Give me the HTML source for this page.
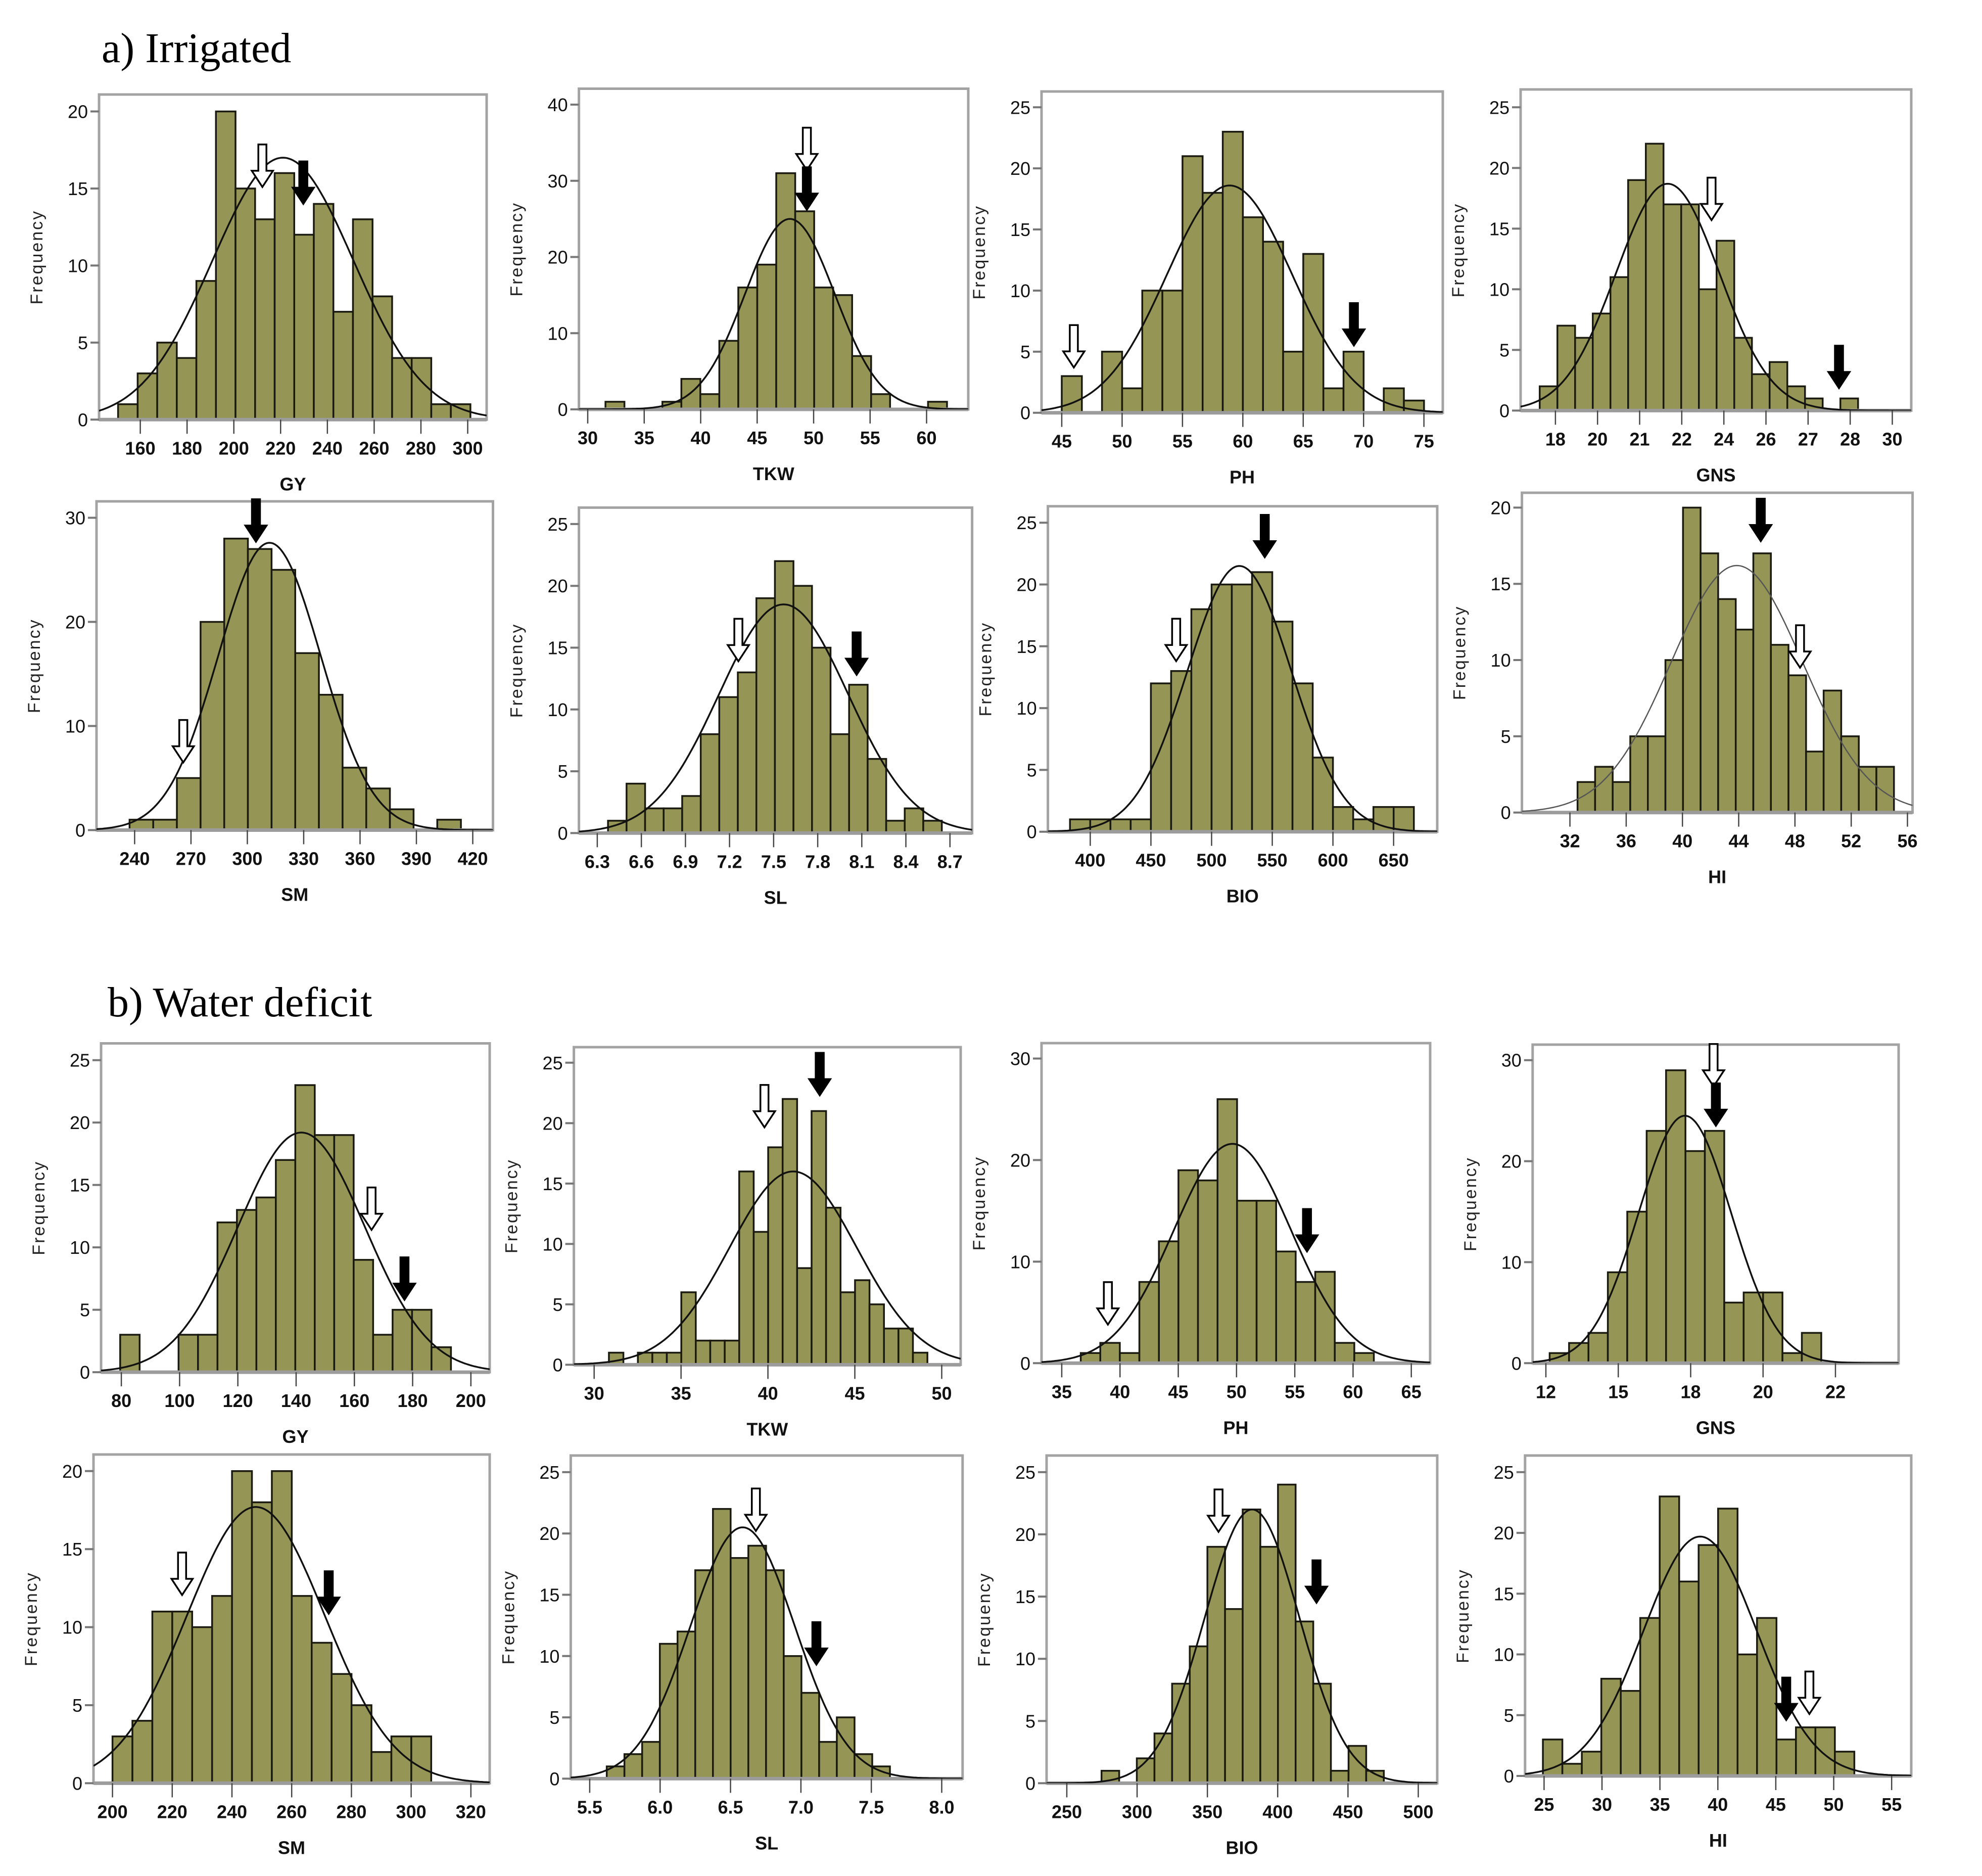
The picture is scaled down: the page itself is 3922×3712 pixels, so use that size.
<!DOCTYPE html>
<html><head><meta charset="utf-8"><style>
html,body{margin:0;padding:0;background:#fff;}
svg{display:block;}
text{font-family:"Liberation Sans",sans-serif;}
</style></head><body>
<svg id="fig" width="3922" height="3712" viewBox="0 0 3922 3712" xmlns="http://www.w3.org/2000/svg">
<rect x="0" y="0" width="3922" height="3712" fill="#fff"/>
<text x="201" y="123" font-size="84" fill="#000" style="font-family:'Liberation Serif',serif">a) Irrigated</text>
<text x="213" y="2011" font-size="84" fill="#000" style="font-family:'Liberation Serif',serif">b) Water deficit</text>
<g id="panels"></g>
</svg>
<script>
// ---------- data (one set of arrays per histogram) ----------
const gyIrrCounts=[1,3,5,4,9,20,15,13,16,12,14,7,13,8,4,4,1,1];
const gyIrrBins=[150.5,8.37];
const gyIrrCurve=[221,30.2,17];
const gyIrrArrows=[[212.2,15.1,0],[229.7,14.0,1]];
const gyIrrXTicks=[160,180,200,220,240,260,280,300];
const gyIrrYTicks=[0,5,10,15,20];

const tkwIrrCounts=[1,0,0,1,4,2,9,16,19,31,26,16,15,7,2,0,0,1];
const tkwIrrBins=[31.57,1.68];
const tkwIrrCurve=[47.9,3.97,25];
const tkwIrrArrows=[[49.4,31.4,0],[49.4,26.2,1]];
const tkwIrrXTicks=[30,35,40,45,50,55,60];
const tkwIrrYTicks=[0,10,20,30,40];

const phIrrCounts=[3,0,5,2,10,10,21,18,23,16,14,5,13,2,5,0,2,1];
const phIrrBins=[45,1.667];
const phIrrCurve=[58.9,5.2,18.6];
const phIrrArrows=[[46,3.7,0],[69.2,5.5,1]];
const phIrrXTicks=[45,50,55,60,65,70,75];
const phIrrYTicks=[0,5,10,15,20,25];

const gnsIrrCounts=[2,7,6,8,11,19,22,17,17,10,14,6,3,4,2,1,0,1];
const gnsIrrBins=[17.44,0.63];
const gnsIrrCurve=[22.0,1.84,18.7];
const gnsIrrArrows=[[23.56,15.7,0],[28.1,1.85,1]];
const gnsIrrXTicks=[18,19.5,21,22.5,24,25.5,27,28.5,30];
const gnsIrrXLabels=["18","20","21","22","24","26","27","28","30"];
const gnsIrrYTicks=[0,5,10,15,20,25];

const smIrrCounts=[1,1,5,20,28,27,25,17,13,6,4,2,0,1];
const smIrrBins=[237.3,12.6];
const smIrrCurve=[311.8,27.3,27.6];
const smIrrArrows=[[265.9,6.5,0],[304.6,27.7,1]];
const smIrrXTicks=[240,270,300,330,360,390,420];
const smIrrYTicks=[0,10,20,30];

const slIrrCounts=[1,4,2,2,3,8,11,13,19,22,20,15,8,12,6,1,2,1];
const slIrrBins=[6.373,0.1262];
const slIrrCurve=[7.568,0.44,18.5];
const slIrrArrows=[[7.26,13.9,0],[8.065,12.8,1]];
const slIrrXTicks=[6.3,6.6,6.9,7.2,7.5,7.8,8.1,8.4,8.7];
const slIrrYTicks=[0,5,10,15,20,25];

const bioIrrCounts=[1,1,1,1,12,13,18,20,20,21,17,12,6,2,1,2,2];
const bioIrrBins=[383.3,16.67];
const bioIrrCurve=[522.9,42.7,21.5];
const bioIrrArrows=[[470.8,13.8,0],[543.8,22.2,1]];
const bioIrrXTicks=[400,450,500,550,600,650];
const bioIrrYTicks=[0,5,10,15,20,25];

const hiIrrCounts=[2,3,2,5,5,10,20,17,14,12,17,11,9,4,8,5,3,3];
const hiIrrBins=[32.54,1.25];
const hiIrrCurve=[43.87,4.69,16.2];
const hiIrrArrows=[[45.57,17.8,1],[48.36,9.5,0]];
const hiIrrXTicks=[32,36,40,44,48,52,56];
const hiIrrYTicks=[0,5,10,15,20];

const gyWdCounts=[3,0,0,3,3,12,13,14,17,23,19,19,9,3,5,5,2];
const gyWdBins=[79.6,6.68];
const gyWdCurve=[141.8,21.8,19.2];
const gyWdArrows=[[165.9,11.4,0],[177.2,5.8,1]];
const gyWdXTicks=[80,100,120,140,160,180,200];
const gyWdYTicks=[0,5,10,15,20,25];

const tkwWdCounts=[1,0,1,1,1,6,2,2,2,16,11,18,22,8,21,13,6,7,5,3,3,1];
const tkwWdBins=[30.85,0.833];
const tkwWdCurve=[41.45,3.66,16];
const tkwWdArrows=[[39.8,19.65,0],[42.98,22.3,1]];
const tkwWdXTicks=[30,35,40,45,50];
const tkwWdYTicks=[0,5,10,15,20,25];

const phWdCounts=[1,2,1,8,12,19,18,26,16,16,11,8,9,2,1];
const phWdBins=[36.63,1.677];
const phWdCurve=[49.65,5.03,21.6];
const phWdArrows=[[38.96,3.8,0],[56.05,11.0,1]];
const phWdXTicks=[35,40,45,50,55,60,65];
const phWdYTicks=[0,10,20,30];

const gnsWdCounts=[1,2,3,9,15,23,29,21,23,6,7,7,1,3];
const gnsWdBins=[12.13,0.67];
const gnsWdCurve=[16.8,1.6,24.5];
const gnsWdArrows=[[17.79,27.4,0],[17.87,23.5,1]];
const gnsWdXTicks=[12,14.5,17,19.5,22];
const gnsWdXLabels=["12","15","18","20","22"];
const gnsWdYTicks=[0,10,20,30];

const smWdCounts=[3,4,11,11,10,12,20,18,20,12,9,7,5,2,3,3];
const smWdBins=[200,6.67];
const smWdCurve=[248,23.1,17.7];
const smWdArrows=[[223.3,12.06,0],[272.4,10.86,1]];
const smWdXTicks=[200,220,240,260,280,300,320];
const smWdYTicks=[0,5,10,15,20];

const slWdCounts=[1,2,3,11,12,17,22,18,19,17,10,7,3,5,2,1];
const slWdBins=[5.621,0.1257];
const slWdCurve=[6.586,0.371,20.5];
const slWdArrows=[[6.68,20.2,0],[7.11,9.3,1]];
const slWdXTicks=[5.5,6.0,6.5,7.0,7.5,8.0];
const slWdYTicks=[0,5,10,15,20,25];

const bioWdCounts=[1,0,2,4,8,11,19,14,22,19,24,13,8,1,3,1];
const bioWdBins=[274.7,12.55];
const bioWdCurve=[381.8,33.6,22];
const bioWdArrows=[[357.9,20.2,0],[427.6,14.5,1]];
const bioWdXTicks=[250,300,350,400,450,500];
const bioWdYTicks=[0,5,10,15,20,25];

const hiWdCounts=[3,1,2,8,7,13,23,16,19,22,10,13,3,4,4,2];
const hiWdBins=[24.9,1.68];
const hiWdCurve=[38.47,4.89,19.7];
const hiWdArrows=[[45.9,4.6,1],[47.9,5.1,0]];
const hiWdXTicks=[25,30,35,40,45,50,55];
const hiWdYTicks=[0,5,10,15,20,25];

// ---------- layout (pixel geometry, not data) ----------
const panels=[
 {id:'gy-irrigated',t:'GY',g:[196,963,187,160,277.6,300,925.5,830.3,20,220.5],c:gyIrrCounts,b:gyIrrBins,k:gyIrrCurve,a:gyIrrArrows,xt:gyIrrXTicks,yt:gyIrrYTicks},
 {id:'tkw-irrigated',t:'TKW',g:[1145.6,1916,175.5,30,1163,60,1833.5,810,40,207],c:tkwIrrCounts,b:tkwIrrBins,k:tkwIrrCurve,a:tkwIrrArrows,xt:tkwIrrXTicks,yt:tkwIrrYTicks},
 {id:'ph-irrigated',t:'PH',g:[2061,2855,181,45,2101,75,2817.7,816.7,25,212.3],c:phIrrCounts,b:phIrrBins,k:phIrrCurve,a:phIrrArrows,xt:phIrrXTicks,yt:phIrrYTicks},
 {id:'gns-irrigated',t:'GNS',g:[3009,3782,177,18,3077.9,30,3744.5,812.4,25,212.3],c:gnsIrrCounts,b:gnsIrrBins,k:gnsIrrCurve,a:gnsIrrArrows,xt:gnsIrrXTicks,xl:gnsIrrXLabels,yt:gnsIrrYTicks},
 {id:'sm-irrigated',t:'SM',g:[191,975.5,992,240,266.4,420,935.5,1642.5,30,1024.5],c:smIrrCounts,b:smIrrBins,k:smIrrCurve,a:smIrrArrows,xt:smIrrXTicks,yt:smIrrYTicks},
 {id:'sl-irrigated',t:'SL',g:[1145.6,1923.6,1004.4,6.3,1181.9,8.7,1879.8,1648.4,25,1036.9],c:slIrrCounts,b:slIrrBins,k:slIrrCurve,a:slIrrArrows,xt:slIrrXTicks,yt:slIrrYTicks,dec:1},
 {id:'bio-irrigated',t:'BIO',g:[2073.6,2844,1001.7,400,2157.4,650,2757.7,1645.7,25,1034.2],c:bioIrrCounts,b:bioIrrBins,k:bioIrrCurve,a:bioIrrArrows,xt:bioIrrXTicks,yt:bioIrrYTicks},
 {id:'hi-irrigated',t:'HI',g:[3011.6,3784.6,975,32,3106.6,56,3774.5,1607.7,20,1004.4],c:hiIrrCounts,b:hiIrrBins,k:hiIrrCurve,a:hiIrrArrows,xt:hiIrrXTicks,yt:hiIrrYTicks,thin:1},
 {id:'gy-water-deficit',t:'GY',g:[200,969,2064.5,80,240.1,200,931.8,2715.1,25,2097.7],c:gyWdCounts,b:gyWdBins,k:gyWdCurve,a:gyWdArrows,xt:gyWdXTicks,yt:gyWdYTicks},
 {id:'tkw-water-deficit',t:'TKW',g:[1135.6,1901,2072,30,1175.7,50,1863.5,2700.4,25,2102.8],c:tkwWdCounts,b:tkwWdBins,k:tkwWdCurve,a:tkwWdArrows,xt:tkwWdXTicks,yt:tkwWdYTicks},
 {id:'ph-water-deficit',t:'PH',g:[2061,2830,2064,35,2101,65,2792.7,2697.3,30,2094.5],c:phWdCounts,b:phWdBins,k:phWdCurve,a:phWdArrows,xt:phWdXTicks,yt:phWdYTicks},
 {id:'gns-water-deficit',t:'GNS',g:[3032.8,3757,2067,12,3059,22,3632,2697.3,30,2097.7],c:gnsWdCounts,b:gnsWdBins,k:gnsWdCurve,a:gnsWdArrows,xt:gnsWdXTicks,xl:gnsWdXLabels,yt:gnsWdYTicks},
 {id:'sm-water-deficit',t:'SM',g:[185,969,2878,200,222.6,320,931.8,3528.4,20,2910.8],c:smWdCounts,b:smWdBins,k:smWdCurve,a:smWdArrows,xt:smWdXTicks,yt:smWdYTicks},
 {id:'sl-water-deficit',t:'SL',g:[1129.4,1904.8,2880,5.5,1166.9,8.0,1863.5,3519.4,25,2912.9],c:slWdCounts,b:slWdBins,k:slWdCurve,a:slWdArrows,xt:slWdXTicks,yt:slWdYTicks,dec:1},
 {id:'bio-water-deficit',t:'BIO',g:[2071,2844,2880,250,2111,500,2806.5,3528.4,25,2912.9],c:bioWdCounts,b:bioWdBins,k:bioWdCurve,a:bioWdArrows,xt:bioWdXTicks,yt:bioWdYTicks},
 {id:'hi-water-deficit',t:'HI',g:[3017.8,3782,2880,25,3055.4,55,3743.2,3514,25,2912.9],c:hiWdCounts,b:hiWdBins,k:hiWdCurve,a:hiWdArrows,xt:hiWdXTicks,yt:hiWdYTicks}
];

const NS='http://www.w3.org/2000/svg';
const root=document.getElementById('panels');
function mk(tag,attrs,parent){const e=document.createElementNS(NS,tag);for(const k in attrs)e.setAttribute(k,attrs[k]);parent.appendChild(e);return e;}

panels.forEach(function(p){
  const [L,R,T,xv1,xp1,xv2,xp2,y0,yv,ypx]=p.g;
  const xs=v=>xp1+(v-xv1)*(xp2-xp1)/(xv2-xv1);
  const ys=f=>y0+f*(ypx-y0)/yv;
  const g=mk('g',{},root);
  
  
  const clipId='clip-'+p.id;
  const cp=mk('clipPath',{id:clipId},g);
  mk('rect',{x:L,y:T,width:R-L,height:y0-T},cp);
  const fr=mk('rect',{x:L,y:T,width:R-L,height:y0-T,fill:'#fff',stroke:'#a3a3a3','stroke-width':5},g);
  
  
  const bg=mk('g',{},g);
  
  
  p.c.forEach(function(cnt,i){
    if(cnt<=0)return;
    const x0=xs(p.b[0]+i*p.b[1]), x1=xs(p.b[0]+(i+1)*p.b[1]);
    const r=mk('rect',{x:x0,y:ys(cnt),width:x1-x0,height:y0-ys(cnt),fill:'#959556',stroke:'#1a1a10','stroke-width':3.5},bg);
    
    
  });
  const ax=mk('line',{x1:L,y1:y0,x2:R,y2:y0,stroke:'#9c9c9c','stroke-width':7},g);
  
  
  const [mu,sd,pk]=p.k;
  let d='';
  for(let i=0;i<=200;i++){
    const px=L+(R-L)*i/200;
    const v=xv1+(px-xp1)*(xv2-xv1)/(xp2-xp1);
    const f=pk*Math.exp(-0.5*Math.pow((v-mu)/sd,2));
    d+=(i?'L':'M')+px.toFixed(1)+' '+ys(f).toFixed(1);
  }
  const cv=mk('path',{d:d,fill:'none',stroke:p.thin?'#555':'#111','stroke-width':p.thin?2.5:3.5,'clip-path':'url(#'+clipId+')'},g);
  
  
  p.yt.forEach(function(t){
    const y=ys(t);
    const tl=mk('line',{x1:L-17,y1:y,x2:L,y2:y,stroke:'#777','stroke-width':4},g);
    
    
    const tx=mk('text',{x:L-22,y:y+13,'text-anchor':'end','font-size':36,fill:'#111'},g);
    tx.textContent=String(t);
    
    
  });
  p.xt.forEach(function(t,i){
    const x=xs(t);
    const tl=mk('line',{x1:x,y1:y0,x2:x,y2:y0+28,stroke:'#444','stroke-width':2.5},g);
    
    
    const tx=mk('text',{x:x,y:y0+69,'text-anchor':'middle','font-size':36,'font-weight':'bold',fill:'#111'},g);
    tx.textContent=p.xl?p.xl[i]:(p.dec?t.toFixed(1):String(t));
    
    
  });
  const xt=mk('text',{x:(L+R)/2,y:y0+140,'text-anchor':'middle','font-size':36,'font-weight':'bold',fill:'#111'},g);
  xt.textContent=p.t;
  
  
  const yc=(T+y0)/2, yx=L-112;
  const yt=mk('text',{x:yx,y:yc,'text-anchor':'middle','font-size':34,fill:'#222','letter-spacing':3,transform:'rotate(-90 '+yx+' '+yc+')'},g);
  yt.textContent='Frequency';
  
  
  p.a.forEach(function(a){
    const x=xs(a[0]), y=ys(a[1]);
    const hw=21, hh=32, sw=8, sl=52;
    const pts=[[x,y],[x-hw,y-hh],[x-sw,y-hh],[x-sw,y-hh-sl],[x+sw,y-hh-sl],[x+sw,y-hh],[x+hw,y-hh]].map(q=>q[0].toFixed(1)+','+q[1].toFixed(1)).join(' ');
    const ar=mk('polygon',{points:pts,fill:a[2]?'#000':'#fff',stroke:'#000','stroke-width':3.5,'stroke-linejoin':'miter'},g);
    
    
  });
});
</script>
</body></html>
